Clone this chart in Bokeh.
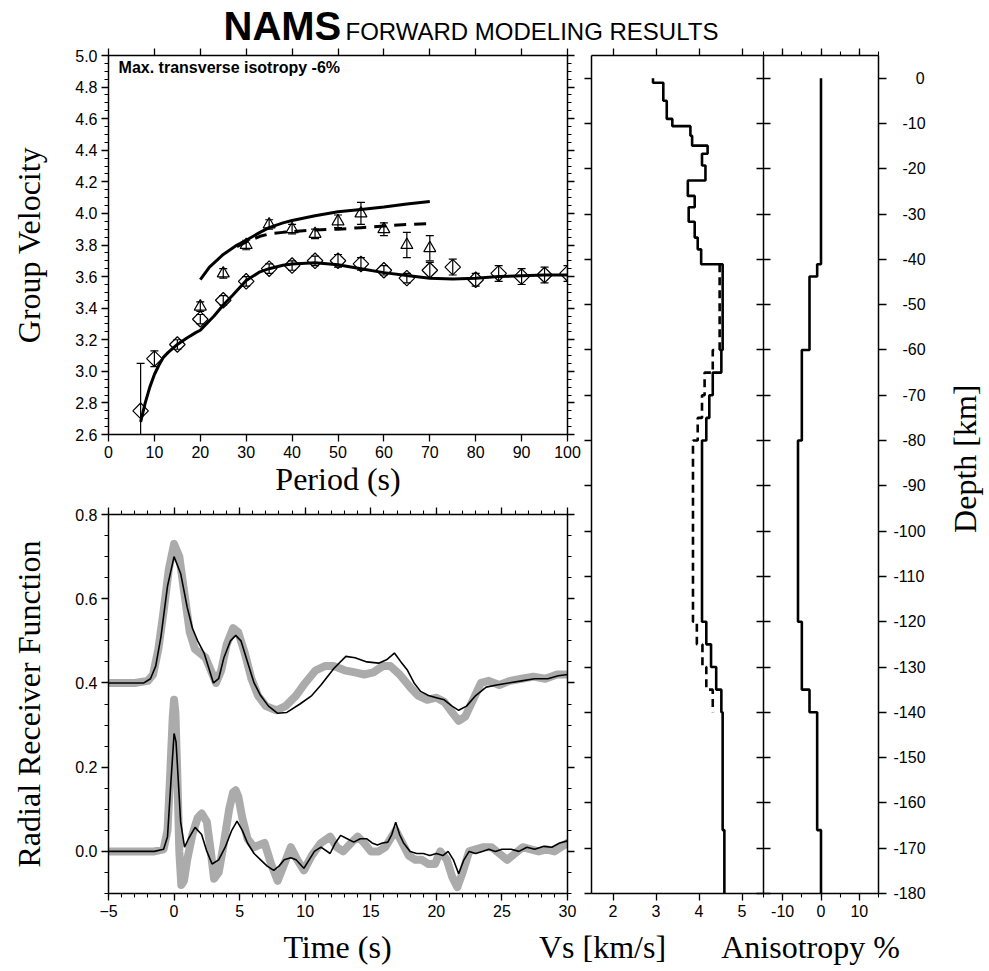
import numpy as np
from bokeh.plotting import figure
from bokeh.layouts import column, row
from bokeh.models import (Range1d, LinearAxis, SingleIntervalTicker, FixedTicker, Label,
                          PrintfTickFormatter, CustomJSTickFormatter)
from bokeh.embed import file_html
from bokeh.resources import INLINE

# ---------------- data ----------------
# Group velocity: Rayleigh observations (diamonds)
ray_period = [7, 10, 15, 20, 25, 30, 35, 40, 45, 50, 55, 60, 65, 70, 75, 80, 85, 90, 95, 100]
ray_vel = [2.75, 3.08, 3.17, 3.33, 3.45, 3.57, 3.65, 3.67, 3.70, 3.70, 3.68, 3.64, 3.59, 3.64, 3.66, 3.58, 3.62, 3.60, 3.61, 3.62]
ray_err = [0.30, 0.05, 0.03, 0.03, 0.03, 0.03, 0.03, 0.03, 0.03, 0.04, 0.04, 0.03, 0.03, 0.05, 0.05, 0.04, 0.05, 0.05, 0.05, 0.05]
# Love observations (triangles)
love_period = [20, 25, 30, 35, 40, 45, 50, 55, 60, 65, 70]
love_vel = [3.41, 3.62, 3.80, 3.93, 3.90, 3.87, 3.95, 4.00, 3.90, 3.80, 3.78]
love_err = [0.03, 0.03, 0.03, 0.03, 0.03, 0.03, 0.04, 0.07, 0.04, 0.08, 0.08]
# model curves
ray_model_period = [7, 8, 9, 10, 11, 12, 13, 15, 17, 19, 20, 21, 23, 25, 27, 30, 33, 35, 38, 40, 45, 50, 55, 60, 65, 70, 75, 80, 85, 90, 95, 100]
ray_model_vel = [2.68, 2.80, 2.90, 2.98, 3.04, 3.09, 3.12, 3.17, 3.21, 3.245, 3.26, 3.29, 3.35, 3.42, 3.48, 3.575, 3.63, 3.65, 3.672, 3.68, 3.687, 3.675, 3.65, 3.625, 3.607, 3.59, 3.585, 3.59, 3.60, 3.605, 3.61, 3.61]
love_model_period = [20, 22, 25, 28, 30, 33, 35, 38, 40, 45, 50, 55, 60, 65, 70]
love_model_vel = [3.58, 3.66, 3.74, 3.80, 3.83, 3.88, 3.91, 3.94, 3.955, 3.985, 4.01, 4.025, 4.04, 4.06, 4.075]
love_iso_period = [28, 30, 33, 35, 38, 40, 45, 50, 55, 60, 65, 70]
love_iso_vel = [3.79, 3.82, 3.855, 3.87, 3.88, 3.885, 3.895, 3.90, 3.91, 3.92, 3.93, 3.935]

# Receiver functions (upper trace offset +0.4)
rf_up_obs_t = [-5, -3, -2.0, -1.6, -1.2, -0.8, -0.4, 0.0, 0.4, 0.8, 1.2, 1.6, 2.0, 2.4, 2.8, 3.2, 3.6, 4.0, 4.5, 4.9, 5.4, 5.9, 6.4, 7.0, 7.8, 8.5, 9.3, 10.0, 10.8, 11.5, 12.2, 13.0, 13.8, 14.5, 15.2, 15.9, 16.5, 17.2, 18.0, 18.6, 19.3, 20.0, 20.6, 21.2, 21.7, 22.2, 22.8, 23.4, 24.0, 24.8, 25.6, 26.5, 27.4, 28.3, 29.2, 30]
rf_up_obs_v = [0.40, 0.40, 0.405, 0.42, 0.48, 0.57, 0.67, 0.73, 0.70, 0.61, 0.52, 0.48, 0.47, 0.46, 0.43, 0.40, 0.43, 0.49, 0.53, 0.52, 0.47, 0.41, 0.37, 0.345, 0.335, 0.345, 0.37, 0.40, 0.43, 0.44, 0.44, 0.43, 0.425, 0.42, 0.425, 0.44, 0.44, 0.42, 0.39, 0.37, 0.36, 0.365, 0.355, 0.33, 0.31, 0.32, 0.36, 0.40, 0.405, 0.395, 0.405, 0.41, 0.415, 0.41, 0.42, 0.42]
rf_up_syn_t = [-5, -3, -2.3, -1.8, -1.4, -1.0, -0.5, 0.0, 0.5, 1.0, 1.4, 1.8, 2.3, 2.7, 3.0, 3.4, 3.8, 4.3, 4.7, 5.1, 5.6, 6.1, 6.6, 7.2, 7.9, 8.6, 9.6, 10.5, 11.2, 12.2, 13.1, 13.8, 14.7, 15.6, 16.2, 16.8, 17.3, 17.8, 18.3, 18.8, 19.4, 20.0, 20.6, 21.2, 21.7, 22.3, 23.0, 23.8, 24.6, 25.5, 26.5, 27.5, 28.5, 29.3, 30]
rf_up_syn_v = [0.40, 0.40, 0.40, 0.41, 0.44, 0.51, 0.63, 0.70, 0.66, 0.58, 0.53, 0.50, 0.47, 0.43, 0.40, 0.41, 0.46, 0.50, 0.513, 0.50, 0.45, 0.40, 0.37, 0.345, 0.328, 0.33, 0.35, 0.37, 0.395, 0.435, 0.463, 0.46, 0.45, 0.447, 0.455, 0.471, 0.45, 0.43, 0.40, 0.38, 0.37, 0.365, 0.36, 0.345, 0.335, 0.345, 0.37, 0.39, 0.395, 0.40, 0.405, 0.41, 0.41, 0.417, 0.42]
rf_lo_obs_t = [-5, -3, -1.5, -0.8, -0.5, -0.3, -0.1, 0.0, 0.1, 0.25, 0.4, 0.55, 0.75, 1.0, 1.4, 1.8, 2.1, 2.5, 2.8, 3.05, 3.4, 3.8, 4.2, 4.5, 4.7, 4.9, 5.2, 5.6, 6.1, 6.5, 6.9, 7.4, 7.9, 8.4, 8.9, 9.4, 9.9, 10.5, 11.2, 11.9, 12.4, 12.9, 13.5, 14.0, 14.5, 15.0, 15.6, 16.1, 16.5, 16.9, 17.4, 17.9, 18.4, 18.9, 19.4, 19.9, 20.3, 20.8, 21.2, 21.6, 22.0, 22.5, 23.0, 23.6, 24.2, 24.8, 25.4, 26.0, 26.6, 27.2, 27.8, 28.4, 29.0, 29.5, 30]
rf_lo_obs_v = [0.0, 0.0, 0.0, 0.005, 0.05, 0.18, 0.32, 0.36, 0.33, 0.18, 0.0, -0.08, -0.07, -0.02, 0.04, 0.08, 0.09, 0.07, 0.0, -0.065, -0.05, 0.02, 0.10, 0.14, 0.145, 0.13, 0.08, 0.03, 0.01, 0.015, 0.02, -0.03, -0.07, -0.03, 0.01, -0.02, -0.045, -0.01, 0.02, 0.035, 0.01, 0.0, 0.02, 0.035, 0.02, 0.0, 0.0, 0.01, 0.03, 0.05, 0.02, -0.01, -0.02, -0.02, -0.03, -0.03, 0.0, -0.02, -0.06, -0.085, -0.05, 0.0, 0.005, 0.01, 0.01, -0.005, -0.02, -0.005, 0.01, 0.005, 0.0, 0.005, 0.0, 0.01, 0.02]
rf_lo_syn_t = [-5, -3, -1.5, -0.8, -0.5, -0.25, 0.0, 0.15, 0.3, 0.5, 0.8, 1.1, 1.6, 2.1, 2.5, 2.9, 3.4, 3.9, 4.4, 4.8, 5.2, 5.6, 6.1, 6.6, 7.1, 7.6, 8.0, 8.4, 8.9, 9.3, 9.9, 10.3, 10.7, 11.2, 11.9, 12.3, 12.7, 13.2, 13.7, 14.2, 14.7, 15.1, 15.5, 15.9, 16.3, 16.6, 16.9, 17.2, 17.5, 18.0, 18.5, 19.0, 19.5, 20.0, 20.5, 20.9, 21.3, 21.7, 22.1, 22.5, 23.0, 23.5, 24.0, 24.5, 25.0, 25.7, 26.3, 26.9, 27.5, 28.2, 28.8, 29.4, 30]
rf_lo_syn_v = [0.0, 0.0, 0.0, 0.005, 0.035, 0.16, 0.28, 0.26, 0.18, 0.07, 0.01, 0.03, 0.057, 0.04, 0.0, -0.03, -0.02, 0.01, 0.05, 0.072, 0.05, 0.02, -0.005, -0.02, -0.035, -0.045, -0.035, -0.02, -0.015, -0.02, -0.04, -0.02, 0.0, 0.01, -0.005, 0.02, 0.038, 0.03, 0.022, 0.03, 0.03, 0.02, 0.015, 0.02, 0.022, 0.04, 0.069, 0.04, 0.02, 0.0, -0.005, -0.005, -0.01, -0.005, -0.01, 0.0, -0.02, -0.053, -0.02, 0.0, -0.005, 0.0, 0.005, 0.0, 0.005, 0.005, 0.0, 0.01, 0.005, 0.012, 0.01, 0.02, 0.025]

# Shear velocity model (layer boundaries in km, velocity per layer)
vs_bounds = [0, -1, -5, -9, -10.6, -12.7, -14.9, -16.7, -19.3, -22.6, -26, -28.5, -31.7, -35.2, -37.8, -41.1,
             -60, -65, -70, -75, -80, -120, -125, -130, -135, -140, -166, -180]
vs_vel = [2.93, 3.17, 3.25, 3.38, 3.80, 3.84, 4.20, 4.07, 4.15, 3.74, 3.90, 3.76, 3.90, 3.97, 4.05,
          4.55, 4.52, 4.32, 4.24, 4.17, 4.07, 4.17, 4.28, 4.40, 4.52, 4.55, 4.59]
vs_iso_bounds = [-41.1, -60, -65, -70, -75, -80, -120, -125, -130, -135, -140]
vs_iso_vel = [4.48, 4.32, 4.13, 4.07, 3.97, 3.86, 3.95, 4.08, 4.17, 4.32]
# Anisotropy model
an_bounds = [0, -41.1, -43.8, -60, -80, -120, -135, -140, -166, -180]
an_val = [0, -1, -3, -5, -6, -5, -3, -1, 0]

SANS = "Liberation Sans"
SERIF = "Liberation Serif"
TOTAL_W = 986


def steps(bounds, vals):
    b = np.asarray(bounds, dtype=float)
    xs = np.repeat(np.asarray(vals, dtype=float), 2)
    ys = np.column_stack([b[:-1], b[1:]]).ravel()
    return xs, ys


def clean(p):
    p.outline_line_color = None
    p.grid.visible = False
    p.background_fill_color = "white"
    p.border_fill_color = "white"
    return p


def base_fig(xr, yr, fw, fh, left, right, top, bottom):
    p = figure(x_range=Range1d(*xr), y_range=Range1d(*yr), frame_width=fw, frame_height=fh,
               min_border_left=left, min_border_right=right, min_border_top=top, min_border_bottom=bottom,
               x_axis_location=None, y_axis_location=None, output_backend="svg", toolbar_location=None)
    return clean(p)


def strip(w, h):
    p = figure(width=w, height=h, x_range=Range1d(0, w), y_range=Range1d(0, h), min_border=0,
               x_axis_location=None, y_axis_location=None, output_backend="svg", toolbar_location=None)
    return clean(p)


def add_axis(p, side, ticker, labels=False, out=7, tin=0, minor_out=4, fmt=None, title=None, title_standoff=5):
    ax = LinearAxis(ticker=ticker)
    ax.axis_line_width = 1.5
    ax.axis_line_color = "black"
    ax.major_tick_line_width = 1.3
    ax.minor_tick_line_width = 1.1
    ax.major_tick_out = out
    ax.major_tick_in = tin
    ax.minor_tick_out = minor_out
    ax.minor_tick_in = 0
    if labels:
        ax.major_label_text_font = SANS
        ax.major_label_text_font_size = "16px"
        ax.major_label_standoff = 4
        ax.major_label_text_color = "black"
        if fmt:
            ax.formatter = PrintfTickFormatter(format=fmt)
    else:
        ax.major_label_text_font_size = "0px"
        ax.major_label_text_color = None
        ax.major_label_standoff = 0
    if title:
        ax.axis_label = title
        ax.axis_label_text_font = SERIF
        ax.axis_label_text_font_size = "32px"
        ax.axis_label_text_font_style = "normal"
        ax.axis_label_text_color = "black"
        ax.axis_label_standoff = title_standoff
    p.add_layout(ax, side)
    return ax


# ---------------- title strip ----------------
pt = strip(TOTAL_W, 48)
pt.add_layout(Label(x=223, y=22.4, text="NAMS", text_font=SANS, text_font_size="40px",
                    text_font_style="bold", text_baseline="middle", text_color="black"))
pt.add_layout(Label(x=345, y=16.8, text="FORWARD MODELING RESULTS", text_font=SANS, text_font_size="24px",
                    text_baseline="middle", text_color="black"))

# ---------------- group velocity ----------------
p1 = base_fig((0, 100), (2.6, 5.0), 459, 379, 108, 14, 7, 72)
add_axis(p1, "below", SingleIntervalTicker(interval=10, num_minor_ticks=0), labels=True,
         title="Period (s)", title_standoff=0)
add_axis(p1, "above", SingleIntervalTicker(interval=10, num_minor_ticks=0))
add_axis(p1, "left", SingleIntervalTicker(interval=0.2, num_minor_ticks=4), labels=True, fmt="%.1f",
         title="Group Velocity", title_standoff=25)
add_axis(p1, "right", SingleIntervalTicker(interval=0.2, num_minor_ticks=4))

p1.line(ray_model_period, ray_model_vel, line_color="black", line_width=3)
p1.line(love_model_period, love_model_vel, line_color="black", line_width=3)
p1.line(love_iso_period, love_iso_vel, line_color="black", line_width=3, line_dash="12 8")

rp = np.array(ray_period, float); rv = np.array(ray_vel); re = np.array(ray_err)
lp = np.array(love_period, float); lv = np.array(love_vel); le = np.array(love_err)
for per, vel, err in ((rp, rv, re), (lp, lv, le)):
    p1.segment(per, vel - err, per, vel + err, line_color="black", line_width=1.2)
    p1.scatter(per, vel + err, marker="dash", size=8, line_color="black", line_width=1.2)
    p1.scatter(per, vel - err, marker="dash", size=8, line_color="black", line_width=1.2)
p1.scatter(rp, rv, marker="square", angle=np.pi / 4, size=11, fill_color=None,
           line_color="black", line_width=1.2)
p1.scatter(lp, lv, marker="triangle", size=12, fill_color=None, line_color="black", line_width=1.2)
p1.add_layout(Label(x=2.2, y=4.975, text="Max. transverse isotropy -6%", text_font=SANS,
                    text_font_size="16px", text_font_style="bold", text_baseline="top", text_color="black"))

# ---------------- receiver functions ----------------
p2 = base_fig((-5, 30), (-0.1, 0.8), 459, 379, 108, 14, 8, 32)
add_axis(p2, "below", SingleIntervalTicker(interval=5, num_minor_ticks=5), labels=True)
add_axis(p2, "above", SingleIntervalTicker(interval=5, num_minor_ticks=5))
add_axis(p2, "left", SingleIntervalTicker(interval=0.2, num_minor_ticks=4), labels=True, fmt="%.1f",
         title="Radial Receiver Function", title_standoff=25)
add_axis(p2, "right", SingleIntervalTicker(interval=0.2, num_minor_ticks=4))

GRAY = "#ababab"
p2.line(rf_up_obs_t, rf_up_obs_v, line_color=GRAY, line_width=8, line_join="round", line_cap="round")
p2.line(rf_lo_obs_t, rf_lo_obs_v, line_color=GRAY, line_width=8, line_join="round", line_cap="round")
p2.line(rf_up_syn_t, rf_up_syn_v, line_color="black", line_width=1.6)
p2.line(rf_lo_syn_t, rf_lo_syn_v, line_color="black", line_width=1.6)

# ---------------- Vs profile ----------------
pvs = base_fig((1.5, 5.5), (-180, 5), 172, 838, 10, 0, 7, 32)
add_axis(pvs, "below", FixedTicker(ticks=[2, 3, 4, 5]), labels=True, fmt="%d")
add_axis(pvs, "above", FixedTicker(ticks=[2, 3, 4, 5]))
add_axis(pvs, "left", SingleIntervalTicker(interval=10, num_minor_ticks=0))
add_axis(pvs, "right", SingleIntervalTicker(interval=10, num_minor_ticks=0), out=0, tin=7)
xs, ys = steps(vs_bounds, vs_vel)
pvs.line(xs, ys, line_color="black", line_width=2.6)
xs, ys = steps(vs_iso_bounds, vs_iso_vel)
pvs.line(xs, ys, line_color="black", line_width=2.6, line_dash="8 5")

# ---------------- anisotropy profile ----------------
pan = base_fig((-15, 15), (-180, 5), 115, 838, 0, 50, 7, 32)
add_axis(pan, "below", SingleIntervalTicker(interval=10, num_minor_ticks=2), labels=True, fmt="%d")
add_axis(pan, "above", SingleIntervalTicker(interval=10, num_minor_ticks=2))
add_axis(pan, "left", SingleIntervalTicker(interval=10, num_minor_ticks=0), out=0, tin=7)
ax_r = add_axis(pan, "right", SingleIntervalTicker(interval=10, num_minor_ticks=0), labels=True, out=8)
ax_r.major_label_standoff = 7
# right-aligned depth labels (padded with figure / punctuation spaces)
ax_r.formatter = CustomJSTickFormatter(code="""
    const s = tick.toFixed(0);
    if (s === "0") { return "\\u2008\\u2007\\u20070"; }
    return "\\u2007".repeat(Math.max(0, 4 - s.length)) + s;
""")
xs, ys = steps(an_bounds, an_val)
pan.line(xs, ys, line_color="black", line_width=2.6)

# ---------------- depth title strip (right) ----------------
pd_ = strip(58, 877)
pd_.add_layout(Label(x=36, y=455, text="Depth [km]", angle=np.pi / 2, text_font=SERIF,
                     text_font_size="32px", text_align="center", text_baseline="middle", text_color="black"))

# ---------------- bottom strip with axis titles ----------------
pb = strip(TOTAL_W, 44)
for txt, cx in (("Time (s)", 337), ("Vs [km/s]", 602), ("Anisotropy %", 810)):
    pb.add_layout(Label(x=cx, y=22.5, text=txt, text_font=SERIF, text_font_size="32px",
                        text_align="center", text_baseline="middle", text_color="black"))

layout = column(pt, row(column(p1, p2), pvs, pan, pd_), pb)
open("out.html", "w").write(file_html(layout, INLINE))
